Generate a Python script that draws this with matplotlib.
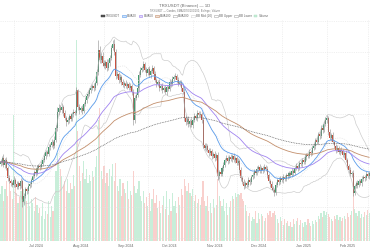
import numpy as np
import pandas as pd
import matplotlib
matplotlib.use("Agg")
import matplotlib.pyplot as plt
import matplotlib.dates as mdates
from matplotlib.patches import Patch

#
# Data (daily candles)
#
start_date = "2024-06-22"
first_open = 0.136

close = [
    0.138, 0.142, 0.135, 0.140, 0.132, 0.122, 0.119, 0.117, 0.115, 0.120,
    0.116, 0.113, 0.117, 0.114, 0.119, 0.098, 0.104, 0.111, 0.109, 0.114,
    0.116, 0.120, 0.124, 0.128, 0.127, 0.132, 0.134, 0.133, 0.136, 0.140,
    0.144, 0.148, 0.146, 0.153, 0.155, 0.158, 0.154, 0.160, 0.172, 0.188,
    0.192, 0.190, 0.193, 0.187, 0.182, 0.178, 0.180, 0.184, 0.181, 0.186,
    0.188, 0.187, 0.210, 0.193, 0.190, 0.192, 0.189, 0.196, 0.200, 0.204,
    0.206, 0.210, 0.212, 0.214, 0.212, 0.217, 0.228, 0.250, 0.240, 0.244,
    0.237, 0.234, 0.238, 0.232, 0.237, 0.242, 0.252, 0.256, 0.248, 0.224,
    0.226, 0.220, 0.223, 0.218, 0.215, 0.217, 0.214, 0.216, 0.212, 0.214,
    0.208, 0.180, 0.202, 0.205, 0.212, 0.225, 0.230, 0.232, 0.236, 0.230,
    0.227, 0.231, 0.225, 0.229, 0.232, 0.226, 0.220, 0.216, 0.218, 0.212,
    0.214, 0.210, 0.212, 0.208, 0.213, 0.211, 0.218, 0.216, 0.221, 0.223,
    0.224, 0.220, 0.216, 0.218, 0.212, 0.208, 0.182, 0.178, 0.181, 0.176,
    0.179, 0.175, 0.180, 0.184, 0.182, 0.187, 0.185, 0.186, 0.180, 0.155,
    0.152, 0.154, 0.150, 0.147, 0.149, 0.144, 0.146, 0.142, 0.145, 0.124,
    0.128, 0.126, 0.132, 0.135, 0.140, 0.142, 0.139, 0.143, 0.141, 0.144,
    0.140, 0.142, 0.137, 0.139, 0.130, 0.122, 0.118, 0.114, 0.117, 0.115,
    0.120, 0.118, 0.123, 0.125, 0.129, 0.127, 0.131, 0.133, 0.129, 0.132,
    0.130, 0.133, 0.131, 0.125, 0.119, 0.116, 0.112, 0.110, 0.107, 0.115,
    0.120, 0.118, 0.122, 0.120, 0.123, 0.121, 0.125, 0.124, 0.127, 0.125,
    0.129, 0.127, 0.132, 0.134, 0.132, 0.137, 0.136, 0.140, 0.138, 0.143,
    0.145, 0.144, 0.148, 0.147, 0.152, 0.154, 0.160, 0.158, 0.166, 0.164,
    0.172, 0.170, 0.176, 0.180, 0.182, 0.168, 0.162, 0.165, 0.158, 0.154,
    0.150, 0.152, 0.148, 0.150, 0.149, 0.145, 0.147, 0.140, 0.134, 0.130,
    0.126, 0.127, 0.107, 0.114, 0.117, 0.115, 0.119, 0.117, 0.121, 0.123,
    0.122, 0.126, 0.124, 0.127,
]

# wick lengths above / below the body, in thousandths
upper_wick = [
    3, 2, 4, 2, 3, 2, 3, 2, 2, 4,  2, 3, 2, 2, 3, 2, 3, 2, 2, 3,
    2, 2, 3, 2, 2, 3, 2, 2, 3, 2,  3, 2, 2, 3, 2, 3, 2, 4, 3, 5,
    4, 3, 4, 2, 3, 2, 3, 2, 3, 2,  3, 2, 3, 1, 3, 2, 3, 2, 3, 2,
    3, 2, 3, 2, 3, 2, 3, 10, 4, 3, 4, 3, 2, 3, 4, 3, 3, 4, 5, 3,
    3, 2, 3, 2, 3, 2, 3, 2, 2, 3,  2, 3, 3, 2, 3, 4, 3, 2, 3, 2,
    3, 2, 3, 2, 3, 2, 3, 2, 2, 3,  2, 3, 2, 3, 2, 2, 3, 2, 3, 2,
    3, 2, 3, 2, 2, 3, 4, 3, 2, 3,  2, 3, 2, 3, 2, 3, 2, 3, 2, 3,
    2, 3, 2, 2, 3, 2, 2, 3, 2, 3,  2, 3, 2, 3, 2, 3, 2, 2, 3, 2,
    3, 2, 2, 3, 2, 3, 2, 3, 2, 2,  3, 2, 2, 3, 2, 2, 3, 2, 3, 2,
    2, 3, 2, 3, 2, 2, 3, 2, 2, 3,  2, 3, 2, 2, 3, 2, 2, 3, 2, 2,
    3, 2, 2, 3, 2, 2, 3, 2, 2, 3,  2, 2, 3, 2, 2, 3, 2, 3, 2, 3,
    3, 2, 3, 3, 3, 2, 3, 2, 3, 2,  2, 3, 2, 2, 3, 2, 2, 3, 2, 2,
    3, 2, 3, 2, 2, 3, 2, 2, 3, 2,  2, 3, 2, 2,
]
lower_wick = [
    2, 3, 2, 3, 2, 3, 2, 3, 2, 2,  3, 2, 2, 3, 2, 5, 3, 2, 3, 2,
    2, 3, 2, 2, 3, 2, 2, 3, 2, 2,  2, 3, 2, 2, 3, 2, 3, 2, 2, 3,
    3, 2, 3, 3, 2, 4, 2, 3, 2, 2,  3, 2, 2, 3, 4, 2, 3, 2, 2, 3,
    2, 2, 3, 2, 3, 2, 2, 3, 3, 3,  3, 2, 3, 3, 2, 3, 2, 2, 3, 3,
    2, 3, 2, 3, 2, 3, 2, 3, 2, 2,  3, 5, 3, 2, 2, 3, 2, 2, 3, 2,
    3, 2, 2, 3, 2, 3, 2, 3, 2, 3,  2, 3, 2, 2, 3, 2, 2, 3, 2, 2,
    2, 3, 2, 2, 3, 2, 3, 3, 2, 3,  3, 2, 3, 2, 2, 3, 2, 2, 3, 3,
    2, 3, 2, 3, 2, 3, 2, 3, 2, 4,  3, 2, 2, 3, 2, 2, 3, 2, 2, 3,
    2, 3, 2, 2, 3, 3, 2, 3, 2, 2,  2, 3, 2, 2, 3, 2, 2, 3, 2, 2,
    3, 2, 2, 3, 2, 3, 2, 2, 3, 2,  2, 3, 2, 2, 3, 2, 2, 3, 2, 2,
    2, 3, 2, 2, 3, 2, 2, 3, 2, 2,  3, 2, 2, 3, 2, 2, 3, 2, 2, 3,
    2, 3, 2, 2, 3, 3, 2, 3, 2, 2,  3, 2, 2, 3, 2, 2, 3, 2, 2, 3,
    2, 3, 3, 2, 2, 3, 2, 2, 3, 2,  3, 2, 2, 3,
]

volume = [
    47, 55, 40, 52, 60, 45, 58, 50, 42, 125,
    55, 48, 38, 44, 50, 57, 52, 45, 40, 48,
    35, 42, 38, 30, 44, 36, 28, 33, 25, 38,
    22, 30, 27, 40, 24, 35, 30, 45, 70, 88,
    80, 72, 65, 55, 60, 50, 62, 48, 58, 52,
    66, 55, 200, 110, 75, 60, 68, 80, 62, 72,
    58, 66, 60, 70, 64, 74, 85, 120, 132, 70,
    62, 75, 58, 68, 55, 72, 65, 77, 60, 78,
    55, 50, 62, 45, 58, 52, 48, 60, 42, 50,
    46, 70, 55, 48, 52, 60, 45, 40, 50, 38,
    44, 35, 48, 30, 42, 52, 38, 46, 33, 40,
    28, 36, 45, 32, 50, 26, 42, 30, 48, 35,
    40, 28, 44, 36, 52, 46, 62, 55, 50, 58,
    48, 45, 52, 40, 46, 38, 42, 36, 44, 60,
    40, 35, 45, 30, 38, 28, 42, 33, 36, 62,
    45, 40, 35, 42, 30, 38, 26, 34, 40, 45,
    42, 48, 44, 47, 46, 48, 42, 40, 36, 30,
    25, 28, 20, 24, 22, 30, 18, 28, 22, 27,
    25, 20, 23, 28, 26, 30, 24, 28, 30, 26,
    22, 18, 24, 20, 16, 22, 18, 20, 15, 19,
    14, 22, 17, 20, 23, 16, 21, 18, 14, 19,
    16, 22, 18, 15, 20, 17, 21, 19, 25, 22,
    28, 24, 30, 26, 29, 27, 24, 22, 20, 25,
    22, 26, 21, 24, 20, 23, 25, 22, 28, 24,
    26, 30, 60, 32, 28, 25, 30, 23, 27, 24,
    29, 26, 31, 28,
]

month_starts = ["2024-07-01", "2024-08-01", "2024-09-01", "2024-10-01",
                "2024-11-01", "2024-12-01", "2025-01-01", "2025-02-01",
                "2025-03-01"]
label_dates = ["2024-07-16", "2024-08-16", "2024-09-16", "2024-10-16",
               "2024-11-16", "2024-12-16", "2025-01-16", "2025-02-15"]
month_labels = ["Jul 2024", "Aug 2024", "Sep 2024", "Oct 2024",
                "Nov 2024", "Dec 2024", "Jan 2025", "Feb 2025"]
grid_levels = [0.062, 0.093, 0.124, 0.155, 0.186, 0.217, 0.248, 0.279]

#
# Indicators
#
dates = pd.date_range(start_date, periods=len(close), freq="D")
df = pd.DataFrame({"close": close, "volume": volume}, index=dates)
df["open"] = [first_open] + close[:-1]
body_top = df[["open", "close"]].max(axis=1)
body_bot = df[["open", "close"]].min(axis=1)
df["high"] = body_top + np.array(upper_wick) / 1000
df["low"] = body_bot - np.array(lower_wick) / 1000
for span in (20, 50, 100, 200):
    df[f"ema{span}"] = df["close"].ewm(span=span, adjust=False).mean()
bb_mid = df["close"].rolling(20, min_periods=10).mean()
bb_std = df["close"].rolling(20, min_periods=10).std(ddof=0)
bb_up = bb_mid + 2 * bb_std
bb_lo = bb_mid - 2 * bb_std

#
# Colours
#
GREEN = "#3f9a6c"
RED = "#c9503f"
VOL_GREEN = "#c8eed9"
VOL_RED = "#f9d0cd"
C_EMA20 = "#5a9cec"
C_EMA50 = "#a083f0"
C_EMA100 = "#c38f6c"
C_EMA200 = "#555555"
C_BB = "#c8c8c8"
TEXT = "#666666"

plt.rcParams["font.family"] = ["Liberation Sans", "DejaVu Sans"]

fig = plt.figure(figsize=(3.7, 2.5), dpi=100)
fig.patch.set_facecolor("white")
ax = fig.add_axes([0, 0.036, 1, 0.884])
axv = ax.twinx()
ax.set_zorder(axv.get_zorder() + 1)
ax.patch.set_visible(False)

x = mdates.date2num(dates)
is_up = (df["close"] >= df["open"]).values

# Volume (background)
axv.bar(x, df["volume"], width=0.8,
        color=np.where(is_up, VOL_GREEN, VOL_RED), linewidth=0)
axv.set_ylim(0, max(volume) * 1.1)
axv.axis("off")

# Bollinger
ax.plot(x, bb_up, color=C_BB, lw=0.45)
ax.plot(x, bb_lo, color=C_BB, lw=0.45)
ax.plot(x, bb_mid, color="#dddddd", lw=0.4, ls=(0, (2, 2)))

# Candles
ax.vlines(x, df["low"], df["high"], color="#8c8c8c", lw=0.4)
heights = np.maximum((body_top - body_bot).values, 0.0006)
ax.bar(x, heights, bottom=body_bot.values, width=0.7,
       color=np.where(is_up, GREEN, RED), linewidth=0)

# EMAs
ax.plot(x, df["ema20"], color=C_EMA20, lw=0.6)
ax.plot(x, df["ema50"], color=C_EMA50, lw=0.6)
ax.plot(x, df["ema100"], color=C_EMA100, lw=0.6)
ax.plot(x, df["ema200"], color=C_EMA200, lw=0.5, ls=(0, (1.2, 1.2)))

# Axes
ax.set_xlim(x[0] - 0.4, x[-1] + 0.6)
ax.set_ylim(0.059, 0.280)
ax.set_xticks(mdates.date2num(pd.to_datetime(month_starts)))
ax.set_xticklabels([])
ax.set_xticks(mdates.date2num(pd.to_datetime(label_dates)), minor=True)
ax.set_xticklabels(month_labels, minor=True)
ax.set_yticks(grid_levels)
ax.tick_params(axis="x", which="both", length=0, pad=2.2,
               labelsize=2.6, labelcolor=TEXT)
ax.tick_params(axis="y", length=0, labelleft=False)
ax.grid(True, which="major", color="#e4e4e4", lw=0.4, ls=(0, (2, 2)))
for spine in ax.spines.values():
    spine.set_visible(False)

# Title / subtitle
fig.text(0.5, 0.978, "TRXUSDT (Binance) — 1D", ha="center", va="center",
         fontsize=3.1, color=TEXT)
fig.text(0.5, 0.955, "TRX/USDT — Candles, EMA20/50/100/200, Bollinger, Volume",
         ha="center", va="center", fontsize=1.8, color="#777777")

# Legend
handles = [
    Patch(facecolor="#555555", edgecolor="#333333", lw=0.3),
    Patch(facecolor="#cfe2fa", edgecolor=C_EMA20, lw=0.4),
    Patch(facecolor="#e2d9fb", edgecolor=C_EMA50, lw=0.4),
    Patch(facecolor="#f0e0d4", edgecolor=C_EMA100, lw=0.4),
    Patch(facecolor="white", edgecolor=C_EMA200, lw=0.4, ls=(0, (1, 1))),
    Patch(facecolor="white", edgecolor="#aaaaaa", lw=0.4, ls=(0, (1, 1))),
    Patch(facecolor="white", edgecolor="#aaaaaa", lw=0.4),
    Patch(facecolor="white", edgecolor="#aaaaaa", lw=0.4),
    Patch(facecolor=VOL_GREEN, edgecolor="#a6dcbc", lw=0.3),
]
labels = ["TRXUSDT", "EMA20", "EMA50", "EMA100", "EMA200",
          "BB Mid (20)", "BB Upper", "BB Lower", "Volume"]
fig.legend(handles, labels, loc="center", bbox_to_anchor=(0.5, 0.936),
           ncol=9, frameon=False, fontsize=2.2, labelcolor=TEXT,
           handlelength=1.2, handleheight=1.0, handletextpad=0.4,
           columnspacing=0.6, borderpad=0)

fig.savefig("out.png", dpi=100, facecolor="white")
